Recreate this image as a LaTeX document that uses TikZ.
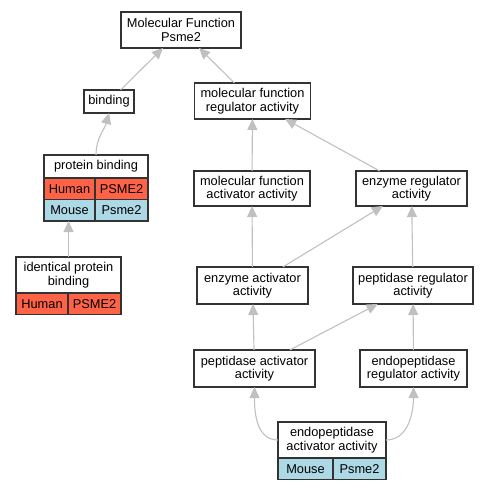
\documentclass[tikz,border=0pt]{standalone}
\usepackage{fontspec}
\setmainfont{Liberation Sans}
\usetikzlibrary{arrows.meta,positioning}
\definecolor{edgegray}{RGB}{192,192,192}
\definecolor{humanred}{RGB}{255,99,71}
\definecolor{mouseblue}{RGB}{173,216,230}

\begin{document}
\begin{tikzpicture} [
    x=1pt, y=-1pt,
    every node/.style={font=\fontsize{12.8}{13.5}\selectfont},
    term/.style={rectangle, draw=black!80, line width=1.1pt, fill=white, align=center, inner sep=1pt, outer sep=0pt, minimum height=36pt},
    head/.style={term, minimum height=23pt},
    cell/.style={rectangle, draw=black!80, line width=1.1pt, inner sep=0pt, outer sep=0pt, minimum height=21.5pt, anchor=north west},
    human/.style={cell, fill=humanred},
    mouse/.style={cell, fill=mouseblue},
    isa/.style={->, draw=edgegray, line width=1.1pt},
    >={Triangle[length=11pt,width=10pt]}
    ]
    \useasboundingbox (0,0) rectangle (489,491);
    %Nodes
    \node[term, minimum width=120pt]     (mf)    at (181,30)      {Molecular Function\\Psme2};
    \node[head, minimum width=50pt]      (bind)  at (109,101.5)   {binding};
    \node[term, minimum width=116pt]     (mfra)  at (252.5,101)   {molecular function\\regulator activity};
    \node[head, minimum width=104pt]     (pb)    at (96,166.5)    {protein binding};
    \node[human, minimum width=51pt]     (pbhs)  at (pb.south west)   {Human};
    \node[human, minimum width=53pt]     (pbhg)  at (pbhs.north east) {PSME2};
    \node[mouse, minimum width=51pt]     (pbms)  at (pbhs.south west) {Mouse};
    \node[mouse, minimum width=53pt]     (pbmg)  at (pbms.north east) {Psme2};
    \node[term, minimum width=105pt]     (ipb)   at (68.5,275)    {identical protein\\binding};
    \node[human, minimum width=52pt]     (ipbhs) at (ipb.south west)   {Human};
    \node[human, minimum width=53pt]     (ipbhg) at (ipbhs.north east) {PSME2};
    \node[term, minimum width=116pt, minimum height=35pt] (mfaa) at (252,188.5) {molecular function\\activator activity};
    \node[term, minimum width=111pt, minimum height=35pt] (er)   at (411.5,188.5) {enzyme regulator\\activity};
    \node[term, minimum width=111pt, minimum height=37pt] (ea)   at (252.5,285.5) {enzyme activator\\activity};
    \node[term, minimum width=120pt, minimum height=37pt] (pr)   at (413,285.5)   {peptidase regulator\\activity};
    \node[term, minimum width=121pt, minimum height=37pt] (pa)   at (254.5,368.5) {peptidase activator\\activity};
    \node[term, minimum width=107pt, minimum height=37pt] (epr)  at (413.5,368.5) {endopeptidase\\regulator activity};
    \node[term, minimum width=108pt]     (eaa)   at (332,440)     {endopeptidase\\activator activity};
    \node[mouse, minimum width=55pt]     (eaams) at (eaa.south west)   {Mouse};
    \node[mouse, minimum width=53pt]     (eaamg) at (eaams.north east) {Psme2};
    %Lines
    \draw[isa] (bind) -- (mf);
    \draw[isa] (mfra) -- (mf);
    \draw[isa] (pb.north) to[out=90, in=-105] (bind.south);
    \draw[isa] (ipb.north) -- (ipb.north |- pbms.south);
    \draw[isa] (mfaa) -- (mfra);
    \draw[isa] (er) -- (mfra);
    \draw[isa] (ea) -- (mfaa);
    \draw[isa] (ea) -- (er);
    \draw[isa] (pr) -- (er);
    \draw[isa] (pa) -- (ea);
    \draw[isa] (pa) -- (pr);
    \draw[isa] (epr) -- (pr);
    \draw[isa] (eaa.west) to[out=180, in=-90] (pa.south);
    \draw[isa] (eaa.east) to[out=0, in=-90] (epr.south);
\end{tikzpicture}
\end{document}
